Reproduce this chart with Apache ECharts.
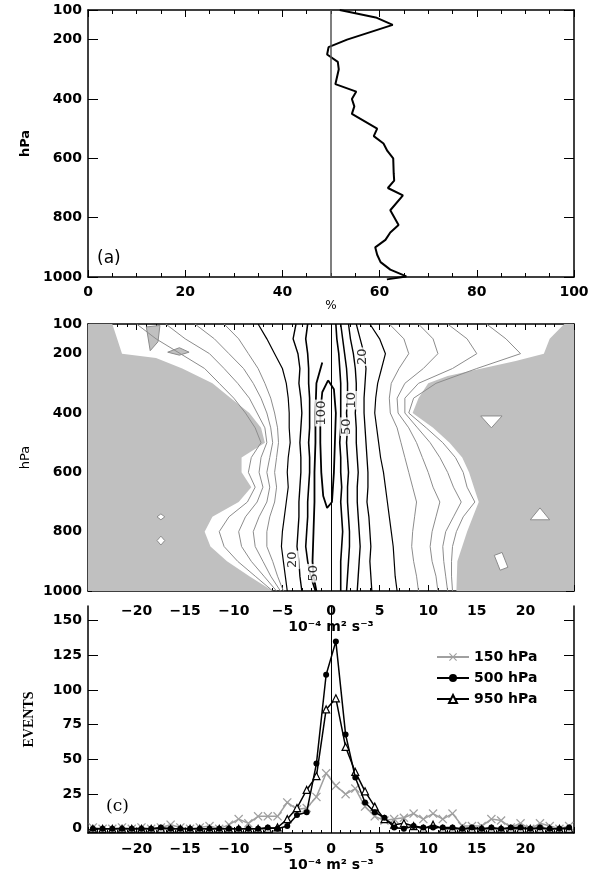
<!DOCTYPE html>
<html>
<head>
<meta charset="utf-8">
<script src="https://cdn.jsdelivr.net/npm/echarts@6/dist/echarts.min.js"></script>
<style>
html, body { margin: 0; padding: 0; background: #fff; }
#chart { width: 591px; height: 871px; }
</style>
</head>
<body>
<div id="chart"></div>
<script>
// (a) percentage profile
var presA = [100, 125, 150, 200, 225, 250, 275, 300, 350, 375, 400, 425, 450, 500, 525, 550, 575, 600, 650, 675, 700, 725, 775, 825, 850, 875, 900, 925, 950, 975, 998, 1008];
var pctA = [51.8, 59.2, 62.7, 53.3, 49.5, 49.2, 51.4, 51.6, 50.9, 55.2, 54.3, 54.8, 54.3, 59.5, 58.8, 60.8, 61.6, 62.8, 62.9, 63.0, 61.7, 64.8, 62.2, 63.9, 62.2, 61.2, 59.1, 59.5, 60.2, 62.2, 65.5, 61.5];

// (b) contour field: x position (10^-4 m2 s-3) of each contour at these levels
var presB = [100, 150, 200, 250, 300, 350, 400, 450, 500, 550, 600, 650, 700, 750, 800, 850, 900, 950, 1000];
var greyL1 = [-20, -18, -15.5, -13, -11.5, -10, -8.8, -7.8, -7.2, -8.2, -8.5, -7.8, -8.6, -10.5, -11.5, -11, -9.6, -7.8, -6];
var greyL2 = [-17, -15, -12.5, -11, -9.6, -8.4, -7.6, -6.8, -6.6, -7.2, -7.4, -7.0, -7.6, -8.8, -9.5, -9.2, -8.2, -6.9, -5.6];
var greyL3 = [-14, -12, -10.5, -9, -8, -7.2, -6.6, -6.2, -6.0, -6.3, -6.6, -6.3, -6.6, -7.4, -8.0, -7.8, -7.0, -6.2, -5.2];
var greyL4 = [-11, -9.5, -8.5, -7.5, -6.8, -6.2, -5.8, -5.5, -5.4, -5.6, -5.8, -5.6, -5.8, -6.3, -6.6, -6.6, -6.0, -5.5, -4.9];
var blackL1 = [-7.5, -6.6, -5.8, -5.0, -4.6, -4.4, -4.3, -4.3, -4.2, -4.4, -4.5, -4.4, -4.6, -4.8, -5.0, -5.1, -4.9, -4.7, -4.5];
var blackL2 = [-3.6, -3.9, -3.4, -3.2, -3.3, -3.1, -3.0, -3.1, -3.2, -3.1, -3.1, -3.2, -3.3, -3.3, -3.4, -3.5, -3.3, -3.2, -3.0];
var blackL3 = [-2.4, -2.6, -2.4, -2.3, -2.3, -2.2, -2.2, -2.2, -2.3, -2.2, -2.2, -2.3, -2.4, -2.4, -2.5, -2.6, -2.4, -2.1, -1.6];
var blackR1 = [0.5, 0.6, 0.8, 0.9, 1.0, 1.0, 1.0, 1.0, 0.9, 1.0, 1.0, 1.1, 1.0, 1.1, 1.2, 1.1, 1.0, 1.0, 1.0];
var blackR2 = [1.0, 1.2, 1.4, 1.6, 1.7, 1.7, 1.6, 1.7, 1.6, 1.7, 1.8, 1.7, 1.7, 1.8, 1.9, 1.9, 1.8, 1.7, 1.6];
var blackR3 = [1.8, 2.0, 2.3, 2.5, 2.6, 2.6, 2.5, 2.6, 2.6, 2.7, 2.8, 2.7, 2.7, 2.8, 2.9, 3.0, 2.9, 2.8, 2.7];
var blackR4 = [2.6, 3.0, 3.4, 3.6, 3.5, 3.4, 3.4, 3.5, 3.6, 3.7, 3.8, 3.8, 3.7, 3.9, 4.0, 4.1, 4.0, 4.1, 4.2];
var blackR5 = [4.0, 5.0, 5.6, 5.2, 4.8, 4.6, 4.5, 4.7, 4.9, 5.1, 5.4, 5.6, 5.8, 6.0, 6.2, 6.4, 6.5, 6.6, 6.8];
var greyR1 = [6, 7.5, 8, 7, 6.2, 6.0, 6.1, 6.8, 7.2, 7.6, 8.0, 8.4, 8.8, 8.6, 8.4, 8.3, 8.5, 8.8, 9.0];
var greyR2 = [9, 10.5, 11, 9.5, 7.6, 6.8, 6.9, 8.0, 8.8, 9.4, 10.0, 10.5, 11.2, 10.8, 10.4, 10.2, 10.4, 10.8, 11.0];
var greyR3 = [12, 14, 15, 12.5, 9.0, 7.6, 7.6, 8.9, 10.2, 11.2, 12.0, 12.6, 13.4, 12.6, 11.8, 11.5, 11.6, 11.8, 12.0];
var greyR4 = [16, 18, 19.5, 15, 10.8, 8.5, 8.0, 9.8, 11.5, 12.8, 13.6, 14.0, 14.8, 13.6, 12.9, 12.5, 12.4, 12.4, 12.5];
// contours that do not span the whole column, [x, hPa]
var black50 = [[-0.9, 230], [-1.5, 300], [-1.6, 400], [-1.6, 500], [-1.7, 600], [-1.7, 700], [-1.8, 800], [-1.9, 900], [-1.8, 950], [-1.5, 1000]];
var black100 = [[-0.3, 290], [-0.9, 330], [-1.1, 400], [-1.1, 500], [-1.0, 600], [-0.8, 680], [-0.4, 720], [0.1, 700], [0.3, 600], [0.4, 500], [0.5, 400], [0.3, 320], [-0.3, 290]];
// zero-event areas and holes, [x, hPa]
var shadeLeft = [[-25, 100], [-22.5, 100], [-22, 150], [-21.5, 200], [-18, 215], [-15.3, 250], [-12.2, 300], [-10.3, 350], [-8.4, 400], [-7.2, 450], [-6.8, 500], [-9.2, 550], [-9.2, 600], [-8.2, 650], [-9.5, 700], [-12.2, 750], [-13, 800], [-12.4, 850], [-10.7, 900], [-8.4, 950], [-6, 1000], [-25, 1000]];
var shadeRight = [[25, 100], [24, 100], [22.5, 150], [21.9, 200], [19, 225], [15.5, 250], [12, 275], [10, 300], [9, 350], [8.4, 400], [10.5, 450], [12.2, 500], [13.5, 550], [14.2, 600], [14.7, 650], [15.2, 700], [14.6, 750], [14, 800], [13.5, 850], [13, 900], [12.9, 1000], [25, 1000]];
var shadeTop1 = [[-19, 110], [-17.6, 105], [-17.8, 160], [-18.6, 190]];
var shadeTop2 = [[-16.8, 195], [-15.6, 180], [-14.6, 195], [-15.6, 205]];
var holeR1 = [[15.4, 410], [17.6, 410], [16.5, 450]];
var holeR2 = [[20.5, 760], [22.5, 760], [21.5, 720]];
var holeR3 = [[16.8, 880], [17.6, 870], [18.2, 920], [17.4, 930]];
var holeL1 = [[-17.9, 750], [-17.5, 740], [-17.1, 750], [-17.5, 760]];
var holeL2 = [[-17.9, 830], [-17.5, 815], [-17.1, 830], [-17.5, 845]];
var contourLabels = [[-3.9, 895, '20'], [-1.8, 940, '50'], [-1.0, 400, '100'], [3.3, 210, '20'], [1.6, 446, '50'], [2.1, 357, '10']];

// (c) event histograms
var binsC = [-24.5, -23.5, -22.5, -21.5, -20.5, -19.5, -18.5, -17.5, -16.5, -15.5, -14.5, -13.5, -12.5, -11.5, -10.5, -9.5, -8.5, -7.5, -6.5, -5.5, -4.5, -3.5, -2.5, -1.5, -0.5,
             0.5, 1.5, 2.5, 3.5, 4.5, 5.5, 6.5, 7.5, 8.5, 9.5, 10.5, 11.5, 12.5, 13.5, 14.5, 15.5, 16.5, 17.5, 18.5, 19.5, 20.5, 21.5, 22.5, 23.5, 24.5];
var ev150 = [1, 0, 0, 1, 0, 1, 0, 1, 3, 1, 0, 1, 2, 0, 3, 7, 4, 9, 9, 9, 19, 14, 15, 23, 40,
             31, 25, 29, 16, 9, 6, 7, 8, 11, 7, 11, 7, 11, 2, 2, 2, 7, 6, 1, 4, 0, 4, 2, 0, 2];
var ev500 = [0, 0, 0, 0, 0, 0, 0, 1, 0, 0, 0, 0, 0, 0, 0, 0, 0, 0, 1, 0, 2, 10, 12, 47, 111,
             135, 68, 37, 19, 12, 8, 1, 0, 2, 1, 1, 1, 1, 0, 1, 0, 1, 0, 1, 1, 0, 1, 0, 0, 1];
var ev950 = [0, 0, 0, 0, 0, 0, 0, 0, 0, 0, 0, 0, 0, 0, 0, 0, 0, 0, 0, 1, 7, 15, 28, 38, 86,
             94, 59, 41, 27, 16, 7, 3, 4, 2, 0, 3, 0, 0, 0, 0, 0, 0, 0, 0, 0, 0, 0, 0, 0, 0];

var pressTicks = [100, 200, 400, 600, 800, 1000];
var pctTicks = [0, 20, 40, 60, 80, 100];
var xTicks = [-20, -15, -10, -5, 0, 5, 10, 15, 20];
var eventTicks = [0, 25, 50, 75, 100, 125, 150];

var chart = echarts.init(document.getElementById('chart'));

var FONT = 'DejaVu Sans';
var SHADE = '#c0c0c0';
var GREYLINE = '#8c8c8c';
var lbl = { color: '#000', fontFamily: FONT, fontWeight: 'bold', fontSize: 14 };
var axLine = { show: true, onZero: false, lineStyle: { color: '#000', width: 1.5 } };
var noLine = { show: false, onZero: false };

function pairs(xs, ys) {
    var out = [];
    for (var i = 0; i < xs.length; i++) out.push([xs[i], ys[i]]);
    return out;
}
function plain(v) { return String(v).replace('-', '\u2212'); }

function polygonSeries(pts, fill, stroke, z) {
    return {
        type: 'custom', xAxisIndex: 2, yAxisIndex: 2, silent: true, z: z,
        data: [0],
        renderItem: function (params, api) {
            var p = pts.map(function (d) { return api.coord(d); });
            return { type: 'polygon', shape: { points: p }, style: { fill: fill, stroke: stroke, lineWidth: 1 } };
        }
    };
}
function contour(pts, color, width) {
    return {
        type: 'line', xAxisIndex: 2, yAxisIndex: 2, data: pts,
        symbol: 'none', silent: true, z: 3,
        lineStyle: { color: color, width: width }
    };
}

var ccSeries = [
    polygonSeries(shadeLeft, SHADE, null, 1),
    polygonSeries(shadeRight, SHADE, null, 1),
    polygonSeries(shadeTop1, SHADE, GREYLINE, 2),
    polygonSeries(shadeTop2, SHADE, GREYLINE, 2),
    polygonSeries(holeR1, '#fff', GREYLINE, 2),
    polygonSeries(holeR2, '#fff', GREYLINE, 2),
    polygonSeries(holeR3, '#fff', GREYLINE, 2),
    polygonSeries(holeL1, '#fff', GREYLINE, 2),
    polygonSeries(holeL2, '#fff', GREYLINE, 2),
    contour(pairs(greyL1, presB), GREYLINE, 1), contour(pairs(greyL2, presB), GREYLINE, 1),
    contour(pairs(greyL3, presB), GREYLINE, 1), contour(pairs(greyL4, presB), GREYLINE, 1),
    contour(pairs(greyR1, presB), GREYLINE, 1), contour(pairs(greyR2, presB), GREYLINE, 1),
    contour(pairs(greyR3, presB), GREYLINE, 1), contour(pairs(greyR4, presB), GREYLINE, 1),
    contour(pairs(blackL1, presB), '#000', 1.2), contour(pairs(blackL2, presB), '#000', 1.4),
    contour(pairs(blackL3, presB), '#000', 1.6),
    contour(pairs(blackR1, presB), '#000', 1.6), contour(pairs(blackR2, presB), '#000', 1.5),
    contour(pairs(blackR3, presB), '#000', 1.4), contour(pairs(blackR4, presB), '#000', 1.3),
    contour(pairs(blackR5, presB), '#000', 1.2),
    contour(black50, '#000', 1.8),
    {
        type: 'line', xAxisIndex: 2, yAxisIndex: 2, data: black100, symbol: 'none', silent: true, z: 3,
        lineStyle: { color: '#000', width: 1.8 },
        markLine: { symbol: 'none', silent: true, label: { show: false }, lineStyle: { color: '#000', width: 1, type: 'solid' }, data: [{ xAxis: 0 }] }
    },
    {
        type: 'scatter', xAxisIndex: 2, yAxisIndex: 2, symbolSize: 0, silent: true, z: 4,
        data: contourLabels.map(function (d) { return { value: [d[0], d[1]], name: d[2] }; }),
        label: { show: true, formatter: '{b}', rotate: 90, color: '#000', fontFamily: FONT, fontSize: 13, backgroundColor: '#fff', padding: [0, 1] }
    }
];

var option = {
    animation: false,
    backgroundColor: '#fff',
    grid: [
        { left: 88, top: 10, width: 486, height: 267, outerBoundsMode: 'none', containLabel: false },
        { left: 88, top: 324, width: 486, height: 267, outerBoundsMode: 'none', containLabel: false },
        { left: 88, top: 606, width: 486, height: 227, outerBoundsMode: 'none', containLabel: false }
    ],
    legend: {
        data: ['150 hPa', '500 hPa', '950 hPa'],
        orient: 'vertical', left: 431, top: 645, itemWidth: 32, itemHeight: 10, itemGap: 7,
        textStyle: { color: '#000', fontFamily: FONT, fontWeight: 'bold', fontSize: 14 }
    },
    graphic: [
        { type: 'text', left: 97, top: 250, style: { text: '(a)', font: '17px "DejaVu Sans"', fill: '#000' } },
        { type: 'text', left: 106, top: 562, style: { text: '(b)', font: '17px "DejaVu Sans"', fill: '#000' } },
        { type: 'text', left: 106, top: 798, style: { text: '(c)', font: '17px "DejaVu Serif"', fill: '#000' } }
    ],
    xAxis: [
        {   // (a) bottom
            gridIndex: 0, type: 'value', min: 0, max: 100, interval: 20,
            axisLine: axLine, splitLine: { show: false },
            axisTick: { inside: true, length: 7, lineStyle: { color: '#000' } },
            minorTick: { show: true, splitNumber: 4, length: 4, lineStyle: { color: '#000' } },
            axisLabel: Object.assign({ margin: 8, customValues: pctTicks, formatter: plain }, lbl),
            name: '%', nameLocation: 'middle', nameGap: 22,
            nameTextStyle: { color: '#000', fontFamily: FONT, fontSize: 12 }
        },
        {   // (a) top
            gridIndex: 0, type: 'value', position: 'top', min: 0, max: 100, interval: 20,
            axisLine: axLine, splitLine: { show: false }, axisLabel: { show: false },
            axisTick: { inside: true, length: 7, lineStyle: { color: '#000' } },
            minorTick: { show: true, splitNumber: 4, length: 4, lineStyle: { color: '#000' } }
        },
        {   // (b) bottom
            gridIndex: 1, type: 'value', min: -25, max: 25, interval: 5,
            axisLine: axLine, splitLine: { show: false },
            axisTick: { inside: true, length: 6, lineStyle: { color: '#000' } },
            minorTick: { show: true, splitNumber: 5, length: 3, lineStyle: { color: '#000' } },
            axisLabel: Object.assign({ margin: 13, customValues: xTicks, formatter: plain }, lbl),
            name: '10\u207B\u2074 m\u00B2 s\u207B\u00B3', nameLocation: 'middle', nameGap: 29,
            nameTextStyle: { color: '#000', fontFamily: FONT, fontWeight: 'bold', fontSize: 14 }
        },
        {   // (b) top
            gridIndex: 1, type: 'value', position: 'top', min: -25, max: 25, interval: 5,
            axisLine: axLine, splitLine: { show: false }, axisLabel: { show: false },
            axisTick: { inside: true, length: 6, lineStyle: { color: '#000' } },
            minorTick: { show: true, splitNumber: 5, length: 3, lineStyle: { color: '#000' } }
        },
        {   // (c) bottom
            gridIndex: 2, type: 'value', min: -25, max: 25, interval: 5,
            axisLine: axLine, splitLine: { show: false },
            axisTick: { inside: true, length: 6, lineStyle: { color: '#000' } },
            minorTick: { show: true, splitNumber: 5, length: 3, lineStyle: { color: '#000' } },
            axisLabel: Object.assign({ margin: 9, customValues: xTicks, formatter: plain }, lbl),
            name: '10\u207B\u2074 m\u00B2 s\u207B\u00B3', nameLocation: 'middle', nameGap: 25,
            nameTextStyle: { color: '#000', fontFamily: FONT, fontWeight: 'bold', fontSize: 14 }
        }
    ],
    yAxis: [
        {   // (a) left
            gridIndex: 0, type: 'value', inverse: true, min: 100, max: 1000,
            axisLine: axLine, splitLine: { show: false },
            axisTick: { inside: true, length: 10, customValues: pressTicks, lineStyle: { color: '#000' } },
            axisLabel: Object.assign({ margin: 6, customValues: pressTicks, formatter: plain }, lbl),
            name: 'hPa', nameLocation: 'middle', nameGap: 56, nameRotate: 90,
            nameTextStyle: { color: '#000', fontFamily: FONT, fontWeight: 'bold', fontSize: 13 }
        },
        {   // (a) right
            gridIndex: 0, type: 'value', inverse: true, min: 100, max: 1000, position: 'right',
            axisLine: axLine, splitLine: { show: false }, axisLabel: { show: false },
            axisTick: { inside: true, length: 10, customValues: pressTicks, lineStyle: { color: '#000' } }
        },
        {   // (b) left, minor ticks + labels
            gridIndex: 1, type: 'value', inverse: true, min: 100, max: 1000, interval: 50,
            axisLine: axLine, splitLine: { show: false },
            axisTick: { inside: true, length: 4, lineStyle: { color: '#000' } },
            axisLabel: Object.assign({ margin: 6, customValues: pressTicks, formatter: plain }, lbl),
            name: 'hPa', nameLocation: 'middle', nameGap: 56, nameRotate: 90,
            nameTextStyle: { color: '#000', fontFamily: FONT, fontSize: 13 }
        },
        {   // (b) left, major ticks
            gridIndex: 1, type: 'value', inverse: true, min: 100, max: 1000,
            axisLine: noLine, splitLine: { show: false }, axisLabel: { show: false },
            axisTick: { inside: true, length: 8, customValues: pressTicks, lineStyle: { color: '#000' } }
        },
        {   // (b) right, minor ticks
            gridIndex: 1, type: 'value', inverse: true, min: 100, max: 1000, interval: 50, position: 'right',
            axisLine: axLine, splitLine: { show: false }, axisLabel: { show: false },
            axisTick: { inside: true, length: 4, lineStyle: { color: '#000' } }
        },
        {   // (b) right, major ticks
            gridIndex: 1, type: 'value', inverse: true, min: 100, max: 1000, position: 'right',
            axisLine: noLine, splitLine: { show: false }, axisLabel: { show: false },
            axisTick: { inside: true, length: 8, customValues: pressTicks, lineStyle: { color: '#000' } }
        },
        {   // (c) left
            gridIndex: 2, type: 'value', min: -3, max: 160.5,
            axisLine: axLine, splitLine: { show: false },
            axisTick: { inside: true, length: 10, customValues: eventTicks, lineStyle: { color: '#000' } },
            axisLabel: Object.assign({ margin: 6, customValues: eventTicks }, lbl),
            name: 'EVENTS', nameLocation: 'middle', nameGap: 52, nameRotate: 90,
            nameTextStyle: { color: '#000', fontFamily: 'Liberation Serif', fontWeight: 'bold', fontSize: 14 }
        },
        {   // (c) right
            gridIndex: 2, type: 'value', min: -3, max: 160.5, position: 'right',
            axisLine: axLine, splitLine: { show: false }, axisLabel: { show: false },
            axisTick: { inside: true, length: 10, customValues: eventTicks, lineStyle: { color: '#000' } }
        }
    ],
    series: [
        {
            type: 'line', xAxisIndex: 0, yAxisIndex: 0, data: pairs(pctA, presA),
            symbol: 'none', clip: false, lineStyle: { color: '#000', width: 2 }, z: 3,
            markLine: { symbol: 'none', silent: true, label: { show: false }, lineStyle: { color: '#555', width: 1.5, type: 'solid' }, data: [{ xAxis: 50 }] }
        }
    ].concat(ccSeries).concat([
        {
            name: '150 hPa', type: 'line', xAxisIndex: 4, yAxisIndex: 6, data: pairs(binsC, ev150),
            symbol: 'path://M0,1L1,0L5,4L9,0L10,1L6,5L10,9L9,10L5,6L1,10L0,9L4,5Z', symbolSize: 9,
            itemStyle: { color: '#a0a0a0' }, lineStyle: { color: '#a0a0a0', width: 1.5 }, z: 3,
            markLine: { symbol: 'none', silent: true, label: { show: false }, lineStyle: { color: '#000', width: 1, type: 'solid' }, data: [{ xAxis: 0 }] }
        },
        {
            name: '950 hPa', type: 'line', xAxisIndex: 4, yAxisIndex: 6, data: pairs(binsC, ev950),
            symbol: 'triangle', symbolSize: 7,
            itemStyle: { color: '#fff', borderColor: '#000', borderWidth: 1.2 }, lineStyle: { color: '#000', width: 1.5 }, z: 4
        },
        {
            name: '500 hPa', type: 'line', xAxisIndex: 4, yAxisIndex: 6, data: pairs(binsC, ev500),
            symbol: 'circle', symbolSize: 6,
            itemStyle: { color: '#000' }, lineStyle: { color: '#000', width: 1.5 }, z: 5
        }
    ])
};
chart.setOption(option);
</script>
</body>
</html>
